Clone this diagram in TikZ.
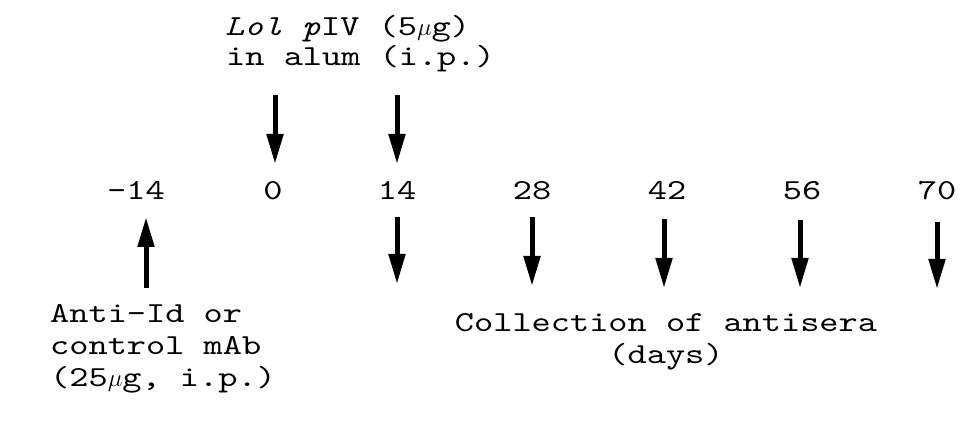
\documentclass[tikz,border=0pt]{standalone}
\usepackage{fontspec}
\setmonofont{lmmono10-regular.otf}[FakeStretch=1.26, ItalicFont=lmmono10-italic.otf]
\usetikzlibrary{arrows.meta}
\tikzset{
  lbl/.style={inner sep=0pt, anchor=base west, font=\ttfamily\fontsize{29}{31}\selectfont},
  day/.style={inner sep=0pt, anchor=base, font=\ttfamily\fontsize{29}{31}\selectfont},
  arr/.style={line width=5pt, draw=black, -{Triangle[length=30pt,width=16pt]}}
}
\begin{document}
\begin{tikzpicture}[x=1pt,y=-1pt]
\useasboundingbox (0,0) rectangle (980,430);
% top label
\node[lbl] (top1) at (225,36) {\textit{Lol p}IV (5$\mu$g)};
\node[lbl] (top2) at (226,66) {in alum (i.p.)};
% day numbers
\node[day] (dm14) at (136,200) {-14};
\node[day] (d0)   at (273,200) {0};
\node[day] (d14)  at (397,200) {14};
\node[day] (d28)  at (532,200) {28};
\node[day] (d42)  at (667,200) {42};
\node[day] (d56)  at (802,200) {56};
\node[day] (d70)  at (937,200) {70};
% left label
\node[lbl] (l1) at (50,323) {Anti-Id or};
\node[lbl] (l2) at (50,355) {control mAb};
\node[lbl] (l3) at (50,386) {(25$\mu$g, i.p.)};
% bottom label
\node[day] (b1) at (666,331) {Collection of antisera};
\node[day] (b2) at (666,363) {(days)};
% arrow end points
\coordinate (u0s) at (275,95);  \coordinate (u0e) at (275,164);
\coordinate (u14s) at (397,95); \coordinate (u14e) at (397,164);
\coordinate (am14s) at (146,288); \coordinate (am14e) at (146,217);
\coordinate (c14s) at (397,217); \coordinate (c14e) at (397,284);
\coordinate (c28s) at (532,217); \coordinate (c28e) at (532,286);
\coordinate (c42s) at (664,219); \coordinate (c42e) at (664,288);
\coordinate (c56s) at (800,220); \coordinate (c56e) at (800,288);
\coordinate (c70s) at (937,222); \coordinate (c70e) at (937,289);
\draw[arr] (u0s) -- (u0e);
\draw[arr] (u14s) -- (u14e);
\draw[arr] (am14s) -- (am14e);
\draw[arr] (c14s) -- (c14e);
\draw[arr] (c28s) -- (c28e);
\draw[arr] (c42s) -- (c42e);
\draw[arr] (c56s) -- (c56e);
\draw[arr] (c70s) -- (c70e);
\end{tikzpicture}
\end{document}
